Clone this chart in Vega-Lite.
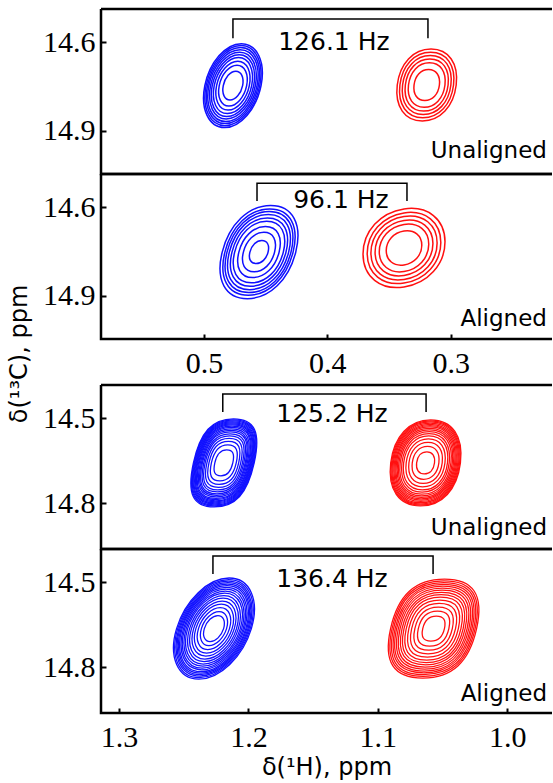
{
"$schema": "https://vega.github.io/schema/vega-lite/v6.json",
"background": "white",
"padding": {"left": 8, "top": 7, "right": 0, "bottom": 0},
"title": {"text": "δ(¹³C), ppm", "orient": "left", "anchor": "middle", "font": "DejaVu Sans", "fontSize": 24, "fontWeight": "normal", "color": "black", "offset": 9, "dx": 40},
"config": {
  "view": {"stroke": "black", "strokeWidth": 2.5},
  "axis": {"labelFont": "Liberation Serif", "labelFontSize": 30, "labelColor": "black", "tickColor": "black", "tickWidth": 2, "tickSize": -5, "labelPadding": 11, "domain": false, "grid": false, "titleFont": "DejaVu Sans", "titleFontSize": 24, "titleFontWeight": "normal", "titleColor": "black", "titlePadding": 3},
  "axisX": {"labelPadding": 14},
  "text": {"color": "black"}
},
"datasets": {
  "contours": [
    {"panel":1,"peak":"A","x":0.4765,"y":14.747,"h":0.285},{"panel":1,"peak":"A","x":0.4765,"y":14.747,"h":0.272},{"panel":1,"peak":"A","x":0.4765,"y":14.747,"h":0.258},{"panel":1,"peak":"A","x":0.4765,"y":14.747,"h":0.244},{"panel":1,"peak":"A","x":0.4765,"y":14.747,"h":0.227},{"panel":1,"peak":"A","x":0.4765,"y":14.747,"h":0.210},{"panel":1,"peak":"A","x":0.4765,"y":14.747,"h":0.190},{"panel":1,"peak":"A","x":0.4765,"y":14.747,"h":0.166},{"panel":1,"peak":"A","x":0.4765,"y":14.747,"h":0.139},{"panel":1,"peak":"A","x":0.4765,"y":14.747,"h":0.098},
    {"panel":1,"peak":"B","x":0.3195,"y":14.745,"h":0.244},{"panel":1,"peak":"B","x":0.3195,"y":14.745,"h":0.222},{"panel":1,"peak":"B","x":0.3195,"y":14.745,"h":0.200},{"panel":1,"peak":"B","x":0.3195,"y":14.745,"h":0.177},{"panel":1,"peak":"B","x":0.3195,"y":14.745,"h":0.151},{"panel":1,"peak":"B","x":0.3195,"y":14.745,"h":0.105},
    {"panel":2,"peak":"A","x":0.4554,"y":14.752,"h":0.316},{"panel":2,"peak":"A","x":0.4554,"y":14.752,"h":0.293},{"panel":2,"peak":"A","x":0.4554,"y":14.752,"h":0.275},{"panel":2,"peak":"A","x":0.4554,"y":14.752,"h":0.255},{"panel":2,"peak":"A","x":0.4554,"y":14.752,"h":0.232},{"panel":2,"peak":"A","x":0.4554,"y":14.752,"h":0.209},{"panel":2,"peak":"A","x":0.4554,"y":14.752,"h":0.173},{"panel":2,"peak":"A","x":0.4554,"y":14.752,"h":0.134},{"panel":2,"peak":"A","x":0.4554,"y":14.752,"h":0.078},
    {"panel":2,"peak":"B","x":0.3379,"y":14.738,"h":0.265},{"panel":2,"peak":"B","x":0.3379,"y":14.738,"h":0.238},{"panel":2,"peak":"B","x":0.3379,"y":14.738,"h":0.214},{"panel":2,"peak":"B","x":0.3379,"y":14.738,"h":0.187},{"panel":2,"peak":"B","x":0.3379,"y":14.738,"h":0.160},{"panel":2,"peak":"B","x":0.3379,"y":14.738,"h":0.115},
    {"panel":3,"peak":"A","x":1.219,"y":14.657,"h":0.311},{"panel":3,"peak":"A","x":1.219,"y":14.657,"h":0.304},{"panel":3,"peak":"A","x":1.219,"y":14.657,"h":0.297},{"panel":3,"peak":"A","x":1.219,"y":14.657,"h":0.289},{"panel":3,"peak":"A","x":1.219,"y":14.657,"h":0.282},{"panel":3,"peak":"A","x":1.219,"y":14.657,"h":0.275},{"panel":3,"peak":"A","x":1.219,"y":14.657,"h":0.268},{"panel":3,"peak":"A","x":1.219,"y":14.657,"h":0.259},{"panel":3,"peak":"A","x":1.219,"y":14.657,"h":0.251},{"panel":3,"peak":"A","x":1.219,"y":14.657,"h":0.240},{"panel":3,"peak":"A","x":1.219,"y":14.657,"h":0.229},{"panel":3,"peak":"A","x":1.219,"y":14.657,"h":0.219},{"panel":3,"peak":"A","x":1.219,"y":14.657,"h":0.205},{"panel":3,"peak":"A","x":1.219,"y":14.657,"h":0.191},{"panel":3,"peak":"A","x":1.219,"y":14.657,"h":0.173},{"panel":3,"peak":"A","x":1.219,"y":14.657,"h":0.152},{"panel":3,"peak":"A","x":1.219,"y":14.657,"h":0.127},{"panel":3,"peak":"A","x":1.219,"y":14.657,"h":0.092},
    {"panel":3,"peak":"B","x":1.0631,"y":14.657,"h":0.304},{"panel":3,"peak":"B","x":1.0631,"y":14.657,"h":0.297},{"panel":3,"peak":"B","x":1.0631,"y":14.657,"h":0.289},{"panel":3,"peak":"B","x":1.0631,"y":14.657,"h":0.281},{"panel":3,"peak":"B","x":1.0631,"y":14.657,"h":0.272},{"panel":3,"peak":"B","x":1.0631,"y":14.657,"h":0.263},{"panel":3,"peak":"B","x":1.0631,"y":14.657,"h":0.254},{"panel":3,"peak":"B","x":1.0631,"y":14.657,"h":0.244},{"panel":3,"peak":"B","x":1.0631,"y":14.657,"h":0.233},{"panel":3,"peak":"B","x":1.0631,"y":14.657,"h":0.221},{"panel":3,"peak":"B","x":1.0631,"y":14.657,"h":0.206},{"panel":3,"peak":"B","x":1.0631,"y":14.657,"h":0.191},{"panel":3,"peak":"B","x":1.0631,"y":14.657,"h":0.169},{"panel":3,"peak":"B","x":1.0631,"y":14.657,"h":0.145},{"panel":3,"peak":"B","x":1.0631,"y":14.657,"h":0.116},{"panel":3,"peak":"B","x":1.0631,"y":14.657,"h":0.078},
    {"panel":4,"peak":"A","x":1.2266,"y":14.663,"h":0.357},{"panel":4,"peak":"A","x":1.2266,"y":14.663,"h":0.346},{"panel":4,"peak":"A","x":1.2266,"y":14.663,"h":0.335},{"panel":4,"peak":"A","x":1.2266,"y":14.663,"h":0.325},{"panel":4,"peak":"A","x":1.2266,"y":14.663,"h":0.314},{"panel":4,"peak":"A","x":1.2266,"y":14.663,"h":0.304},{"panel":4,"peak":"A","x":1.2266,"y":14.663,"h":0.291},{"panel":4,"peak":"A","x":1.2266,"y":14.663,"h":0.279},{"panel":4,"peak":"A","x":1.2266,"y":14.663,"h":0.265},{"panel":4,"peak":"A","x":1.2266,"y":14.663,"h":0.251},{"panel":4,"peak":"A","x":1.2266,"y":14.663,"h":0.233},{"panel":4,"peak":"A","x":1.2266,"y":14.663,"h":0.215},{"panel":4,"peak":"A","x":1.2266,"y":14.663,"h":0.194},{"panel":4,"peak":"A","x":1.2266,"y":14.663,"h":0.173},{"panel":4,"peak":"A","x":1.2266,"y":14.663,"h":0.148},{"panel":4,"peak":"A","x":1.2266,"y":14.663,"h":0.120},{"panel":4,"peak":"A","x":1.2266,"y":14.663,"h":0.092},
    {"panel":4,"peak":"B","x":1.0569,"y":14.663,"h":0.349},{"panel":4,"peak":"B","x":1.0569,"y":14.663,"h":0.337},{"panel":4,"peak":"B","x":1.0569,"y":14.663,"h":0.325},{"panel":4,"peak":"B","x":1.0569,"y":14.663,"h":0.312},{"panel":4,"peak":"B","x":1.0569,"y":14.663,"h":0.300},{"panel":4,"peak":"B","x":1.0569,"y":14.663,"h":0.286},{"panel":4,"peak":"B","x":1.0569,"y":14.663,"h":0.272},{"panel":4,"peak":"B","x":1.0569,"y":14.663,"h":0.256},{"panel":4,"peak":"B","x":1.0569,"y":14.663,"h":0.240},{"panel":4,"peak":"B","x":1.0569,"y":14.663,"h":0.222},{"panel":4,"peak":"B","x":1.0569,"y":14.663,"h":0.201},{"panel":4,"peak":"B","x":1.0569,"y":14.663,"h":0.178},{"panel":4,"peak":"B","x":1.0569,"y":14.663,"h":0.152},{"panel":4,"peak":"B","x":1.0569,"y":14.663,"h":0.124},{"panel":4,"peak":"B","x":1.0569,"y":14.663,"h":0.088}
  ],
  "brackets": [
    {"panel":1,"seq":1,"x":0.4765,"y":14.586},{"panel":1,"seq":2,"x":0.4765,"y":14.521},{"panel":1,"seq":3,"x":0.3185,"y":14.521},{"panel":1,"seq":4,"x":0.3185,"y":14.586},
    {"panel":2,"seq":1,"x":0.457,"y":14.579},{"panel":2,"seq":2,"x":0.457,"y":14.518},{"panel":2,"seq":3,"x":0.3355,"y":14.518},{"panel":2,"seq":4,"x":0.3355,"y":14.579},
    {"panel":3,"seq":1,"x":1.2198,"y":14.477},{"panel":3,"seq":2,"x":1.2198,"y":14.414},{"panel":3,"seq":3,"x":1.0627,"y":14.414},{"panel":3,"seq":4,"x":1.0627,"y":14.477},
    {"panel":4,"seq":1,"x":1.2274,"y":14.470},{"panel":4,"seq":2,"x":1.2274,"y":14.407},{"panel":4,"seq":3,"x":1.0573,"y":14.407},{"panel":4,"seq":4,"x":1.0573,"y":14.470}
  ],
  "labels": [
    {"panel":1,"kind":"coupling","x":0.3947,"y":14.600,"text":"126.1 Hz"},
    {"panel":1,"kind":"condition","x":0.2221,"y":14.993,"text":"Unaligned"},
    {"panel":2,"kind":"coupling","x":0.389,"y":14.575,"text":"96.1 Hz"},
    {"panel":2,"kind":"condition","x":0.2221,"y":15.003,"text":"Aligned"},
    {"panel":3,"kind":"coupling","x":1.1354,"y":14.484,"text":"125.2 Hz"},
    {"panel":3,"kind":"condition","x":0.9692,"y":14.911,"text":"Unaligned"},
    {"panel":4,"kind":"coupling","x":1.1354,"y":14.488,"text":"136.4 Hz"},
    {"panel":4,"kind":"condition","x":0.9692,"y":14.919,"text":"Aligned"}
  ]
},
"spacing": 3,
"resolve": {"scale": {"shape": "independent", "size": "independent"}},
"vconcat": [
  {
    "spacing": 0,
    "bounds": "flush",
    "resolve": {"scale": {"shape": "independent", "size": "independent"}},
    "vconcat": [
      {
        "width": 451, "height": 165,
        "view": {"stroke": "black", "strokeWidth": 2.5, "strokeDash": [451, 165, 616, 0]},
        "encoding": {
          "x": {"field": "x", "type": "quantitative", "scale": {"domain": [0.218, 0.5834], "reverse": true, "nice": false, "zero": false}, "axis": null},
          "y": {"field": "y", "type": "quantitative", "scale": {"domain": [14.487, 15.047], "reverse": true, "nice": false, "zero": false}, "axis": {"values": [14.6, 14.9], "format": ".1f", "title": null}}
        },
        "layer": [
          {"data": {"name": "contours"}, "transform": [{"filter": "datum.panel == 1"}],
           "mark": {"type": "point", "filled": false, "strokeWidth": 1.5, "opacity": 1},
           "encoding": {
             "size": {"field": "h", "type": "quantitative", "scale": {"type": "pow", "exponent": 2, "domain": [0, 0.4], "range": [0, 13886]}, "legend": null},
             "color": {"field": "peak", "type": "nominal", "scale": {"domain": ["A", "B"], "range": ["#1010ff", "#ff1010"]}, "legend": null},
             "shape": {"field": "peak", "type": "nominal", "scale": {"domain": ["A", "B"], "range": ["M0.2,-1C0.575,-1,0.782,-0.56,0.67,0C0.558,0.56,0.175,1,-0.2,1C-0.575,1,-0.782,0.56,-0.67,0C-0.558,-0.56,-0.175,-1,0.2,-1Z", "M0.12,-1C0.612,-1,0.892,-0.6,0.82,0C0.748,0.6,0.372,1,-0.12,1C-0.612,1,-0.892,0.6,-0.82,0C-0.748,-0.6,-0.372,-1,0.12,-1Z"]}, "legend": null}
           }},
          {"data": {"name": "brackets"}, "transform": [{"filter": "datum.panel == 1"}],
           "mark": {"type": "line", "color": "black", "strokeWidth": 1.5},
           "encoding": {"order": {"field": "seq", "type": "quantitative"}}},
          {"data": {"name": "labels"}, "transform": [{"filter": "datum.panel == 1 && datum.kind == 'coupling'"}],
           "mark": {"type": "text", "font": "DejaVu Sans", "fontSize": 25, "align": "center", "baseline": "middle", "color": "black"},
           "encoding": {"text": {"field": "text"}}},
          {"data": {"name": "labels"}, "transform": [{"filter": "datum.panel == 1 && datum.kind == 'condition'"}],
           "mark": {"type": "text", "font": "DejaVu Sans", "fontSize": 23, "align": "right", "baseline": "alphabetic", "color": "black"},
           "encoding": {"text": {"field": "text"}}}
        ]
      },
      {
        "width": 451, "height": 165,
        "view": {"stroke": "black", "strokeWidth": 2.5, "strokeDash": [451, 165, 616, 0]},
        "encoding": {
          "x": {"field": "x", "type": "quantitative", "scale": {"domain": [0.218, 0.5834], "reverse": true, "nice": false, "zero": false}, "axis": {"values": [0.5, 0.4, 0.3], "format": ".1f", "title": null}},
          "y": {"field": "y", "type": "quantitative", "scale": {"domain": [14.487, 15.047], "reverse": true, "nice": false, "zero": false}, "axis": {"values": [14.6, 14.9], "format": ".1f", "title": null}}
        },
        "layer": [
          {"data": {"name": "contours"}, "transform": [{"filter": "datum.panel == 2"}],
           "mark": {"type": "point", "filled": false, "strokeWidth": 1.5, "opacity": 1},
           "encoding": {
             "size": {"field": "h", "type": "quantitative", "scale": {"type": "pow", "exponent": 2, "domain": [0, 0.4], "range": [0, 13886]}, "legend": null},
             "color": {"field": "peak", "type": "nominal", "scale": {"domain": ["A", "B"], "range": ["#1010ff", "#ff1010"]}, "legend": null},
             "shape": {"field": "peak", "type": "nominal", "scale": {"domain": ["A", "B"], "range": ["M0.25,-1C0.724,-1,0.94,-0.6,0.79,0C0.64,0.6,0.224,1,-0.25,1C-0.724,1,-0.94,0.6,-0.79,0C-0.64,-0.6,-0.224,-1,0.25,-1Z", "M0,-1C0.609,-1.091,1.05,-0.7375,1.05,-0.1575C1.05,0.4225,0.609,0.909,0,1C-0.609,1.091,-1.05,0.7375,-1.05,0.1575C-1.05,-0.4225,-0.609,-0.909,0,-1Z"]}, "legend": null}
           }},
          {"data": {"name": "brackets"}, "transform": [{"filter": "datum.panel == 2"}],
           "mark": {"type": "line", "color": "black", "strokeWidth": 1.5},
           "encoding": {"order": {"field": "seq", "type": "quantitative"}}},
          {"data": {"name": "labels"}, "transform": [{"filter": "datum.panel == 2 && datum.kind == 'coupling'"}],
           "mark": {"type": "text", "font": "DejaVu Sans", "fontSize": 25, "align": "center", "baseline": "middle", "color": "black"},
           "encoding": {"text": {"field": "text"}}},
          {"data": {"name": "labels"}, "transform": [{"filter": "datum.panel == 2 && datum.kind == 'condition'"}],
           "mark": {"type": "text", "font": "DejaVu Sans", "fontSize": 23, "align": "right", "baseline": "alphabetic", "color": "black"},
           "encoding": {"text": {"field": "text"}}}
        ]
      }
    ]
  },
  {
    "spacing": 0,
    "bounds": "flush",
    "resolve": {"scale": {"shape": "independent", "size": "independent"}},
    "vconcat": [
      {
        "width": 451, "height": 164,
        "view": {"stroke": "black", "strokeWidth": 2.5, "strokeDash": [451, 164, 615, 0]},
        "encoding": {
          "x": {"field": "x", "type": "quantitative", "scale": {"domain": [0.9654, 1.3139], "reverse": true, "nice": false, "zero": false}, "axis": null},
          "y": {"field": "y", "type": "quantitative", "scale": {"domain": [14.382, 14.961], "reverse": true, "nice": false, "zero": false}, "axis": {"values": [14.5, 14.8], "format": ".1f", "title": null}}
        },
        "layer": [
          {"data": {"name": "contours"}, "transform": [{"filter": "datum.panel == 3"}],
           "mark": {"type": "point", "filled": false, "strokeWidth": 1.3, "opacity": 1},
           "encoding": {
             "size": {"field": "h", "type": "quantitative", "scale": {"type": "pow", "exponent": 2, "domain": [0, 0.4], "range": [0, 12841]}, "legend": null},
             "color": {"field": "peak", "type": "nominal", "scale": {"domain": ["A", "B"], "range": ["#1010ff", "#ff1010"]}, "legend": null},
             "shape": {"field": "peak", "type": "nominal", "scale": {"domain": ["A", "B"], "range": ["M0.22,-1C0.703,-1,0.844,-0.7,0.69,0C0.536,0.7,0.263,1,-0.22,1C-0.703,1,-0.844,0.7,-0.69,0C-0.536,-0.7,-0.263,-1,0.22,-1Z", "M0.12,-1C0.622,-1,0.884,-0.62,0.81,0C0.736,0.62,0.382,1,-0.12,1C-0.622,1,-0.884,0.62,-0.81,0C-0.736,-0.62,-0.382,-1,0.12,-1Z"]}, "legend": null}
           }},
          {"data": {"name": "brackets"}, "transform": [{"filter": "datum.panel == 3"}],
           "mark": {"type": "line", "color": "black", "strokeWidth": 1.5},
           "encoding": {"order": {"field": "seq", "type": "quantitative"}}},
          {"data": {"name": "labels"}, "transform": [{"filter": "datum.panel == 3 && datum.kind == 'coupling'"}],
           "mark": {"type": "text", "font": "DejaVu Sans", "fontSize": 25, "align": "center", "baseline": "middle", "color": "black"},
           "encoding": {"text": {"field": "text"}}},
          {"data": {"name": "labels"}, "transform": [{"filter": "datum.panel == 3 && datum.kind == 'condition'"}],
           "mark": {"type": "text", "font": "DejaVu Sans", "fontSize": 23, "align": "right", "baseline": "alphabetic", "color": "black"},
           "encoding": {"text": {"field": "text"}}}
        ]
      },
      {
        "width": 451, "height": 164,
        "view": {"stroke": "black", "strokeWidth": 2.5, "strokeDash": [451, 164, 615, 0]},
        "encoding": {
          "x": {"field": "x", "type": "quantitative", "scale": {"domain": [0.9654, 1.3139], "reverse": true, "nice": false, "zero": false}, "axis": {"values": [1.3, 1.2, 1.1, 1.0], "format": ".1f", "title": "δ(¹H), ppm"}},
          "y": {"field": "y", "type": "quantitative", "scale": {"domain": [14.382, 14.961], "reverse": true, "nice": false, "zero": false}, "axis": {"values": [14.5, 14.8], "format": ".1f", "title": null}}
        },
        "layer": [
          {"data": {"name": "contours"}, "transform": [{"filter": "datum.panel == 4"}],
           "mark": {"type": "point", "filled": false, "strokeWidth": 1.3, "opacity": 1},
           "encoding": {
             "size": {"field": "h", "type": "quantitative", "scale": {"type": "pow", "exponent": 2, "domain": [0, 0.4], "range": [0, 12841]}, "legend": null},
             "color": {"field": "peak", "type": "nominal", "scale": {"domain": ["A", "B"], "range": ["#1010ff", "#ff1010"]}, "legend": null},
             "shape": {"field": "peak", "type": "nominal", "scale": {"domain": ["A", "B"], "range": ["M0.3,-1C0.714,-1,0.908,-0.56,0.74,0C0.572,0.56,0.114,1,-0.3,1C-0.714,1,-0.908,0.56,-0.74,0C-0.572,-0.56,-0.114,-1,0.3,-1Z", "M0.22,-1C0.812,-1,1.02,-0.68,0.87,0C0.72,0.68,0.372,1,-0.22,1C-0.812,1,-1.02,0.68,-0.87,0C-0.72,-0.68,-0.372,-1,0.22,-1Z"]}, "legend": null}
           }},
          {"data": {"name": "brackets"}, "transform": [{"filter": "datum.panel == 4"}],
           "mark": {"type": "line", "color": "black", "strokeWidth": 1.5},
           "encoding": {"order": {"field": "seq", "type": "quantitative"}}},
          {"data": {"name": "labels"}, "transform": [{"filter": "datum.panel == 4 && datum.kind == 'coupling'"}],
           "mark": {"type": "text", "font": "DejaVu Sans", "fontSize": 25, "align": "center", "baseline": "middle", "color": "black"},
           "encoding": {"text": {"field": "text"}}},
          {"data": {"name": "labels"}, "transform": [{"filter": "datum.panel == 4 && datum.kind == 'condition'"}],
           "mark": {"type": "text", "font": "DejaVu Sans", "fontSize": 23, "align": "right", "baseline": "alphabetic", "color": "black"},
           "encoding": {"text": {"field": "text"}}}
        ]
      }
    ]
  }
]
}
